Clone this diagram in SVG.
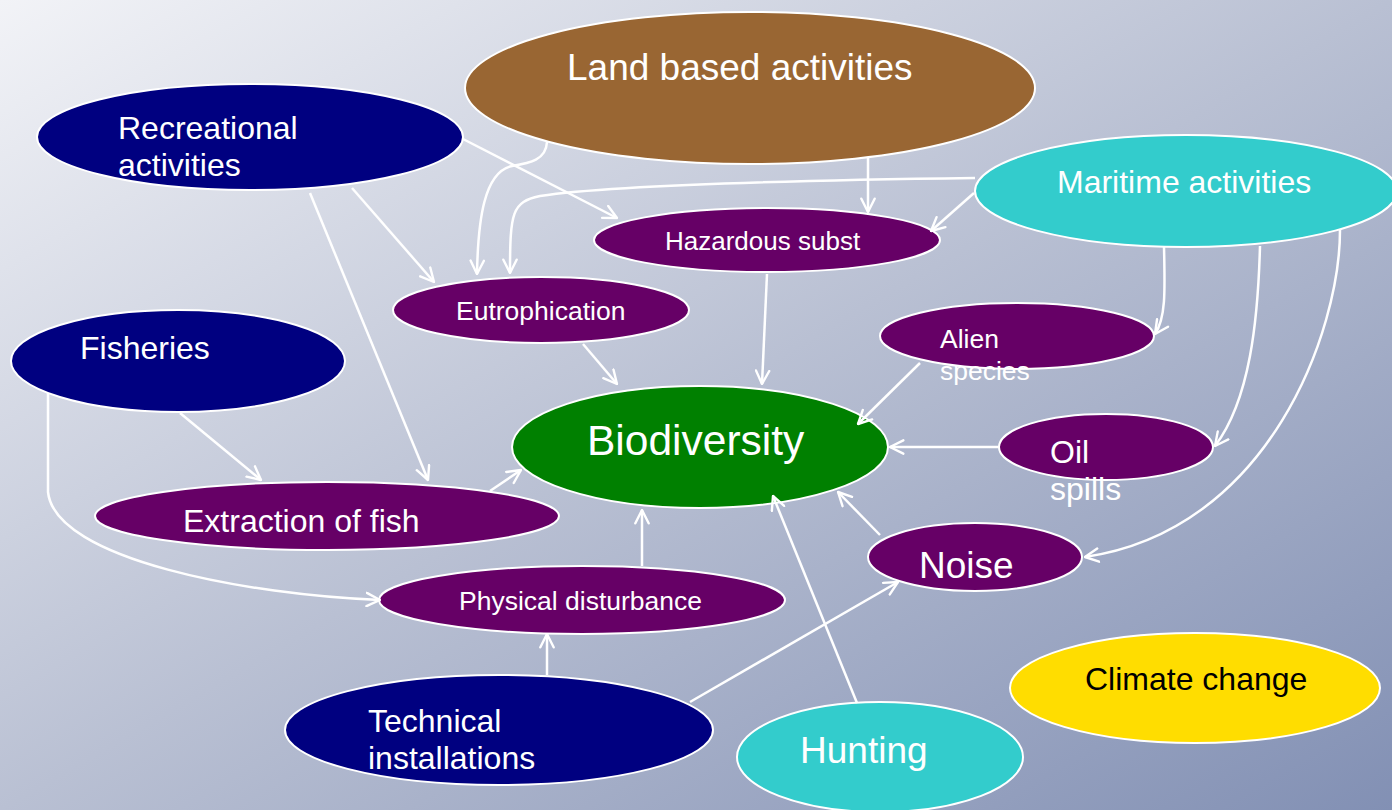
<svg xmlns="http://www.w3.org/2000/svg" width="1392" height="810" viewBox="0 0 1392 810">
<defs>
<linearGradient id="bg" x1="0" y1="0" x2="1" y2="1">
<stop offset="0" stop-color="#f2f3f7"/>
<stop offset="0.5" stop-color="#b9c0d3"/>
<stop offset="1" stop-color="#8290b4"/>
</linearGradient>
<marker id="ah" viewBox="0 0 12 12" refX="11" refY="6" markerWidth="16" markerHeight="16" markerUnits="userSpaceOnUse" orient="auto">
<path d="M1,1 L11,6 L1,11" fill="none" stroke="#fff" stroke-width="1.8" stroke-linecap="round" stroke-linejoin="round"/>
</marker>
<style>
.n{stroke:#fff;stroke-width:2}
.navy{fill:#000080}.brown{fill:#996633}.cyan{fill:#33cccc}.purple{fill:#660066}.green{fill:#008000}.yellow{fill:#ffdd00}
text{font-family:"Liberation Sans",Arial,sans-serif;fill:#fff}
.c path,.c line{fill:none;stroke:#fff;stroke-width:2.5;marker-end:url(#ah)}
</style>
</defs>
<rect width="1392" height="810" fill="url(#bg)"/>
<g id="land"><ellipse class="n brown" cx="750" cy="88" rx="285" ry="76"/><text x="567" y="80" font-size="37">Land based activities</text></g>
<g id="recreational"><ellipse class="n navy" cx="250" cy="137" rx="213" ry="53"/><text x="118" y="139" font-size="32">Recreational</text><text x="118" y="176" font-size="32">activities</text></g>
<g id="maritime"><ellipse class="n cyan" cx="1186" cy="191" rx="211" ry="56"/><text x="1057" y="193" font-size="32">Maritime activities</text></g>
<g id="hazardous"><ellipse class="n purple" cx="767" cy="240" rx="173" ry="32"/><text x="665" y="250" font-size="26">Hazardous subst</text></g>
<g id="eutrophication"><ellipse class="n purple" cx="541" cy="310" rx="148" ry="33"/><text x="456" y="320" font-size="26.5">Eutrophication</text></g>
<g id="fisheries"><ellipse class="n navy" cx="178" cy="361" rx="167" ry="51"/><text x="80" y="359" font-size="32">Fisheries</text></g>
<g id="alien"><ellipse class="n purple" cx="1017" cy="336" rx="137" ry="33"/><text x="940" y="348" font-size="26.5">Alien</text><text x="940" y="380" font-size="26.5">species</text></g>
<g id="biodiversity"><ellipse class="n green" cx="700" cy="447" rx="188" ry="61"/><text x="587" y="455" font-size="42.5">Biodiversity</text></g>
<g id="oil"><ellipse class="n purple" cx="1106" cy="447" rx="107" ry="33"/><text x="1050" y="463" font-size="32">Oil</text><text x="1050" y="500" font-size="32">spills</text></g>
<g id="extraction"><ellipse class="n purple" cx="327" cy="516" rx="232" ry="34"/><text x="183" y="532" font-size="32">Extraction of fish</text></g>
<g id="noise"><ellipse class="n purple" cx="975" cy="557" rx="107" ry="34"/><text x="919" y="578" font-size="37">Noise</text></g>
<g id="physical"><ellipse class="n purple" cx="582" cy="600" rx="203" ry="34"/><text x="459" y="610" font-size="26.5">Physical disturbance</text></g>
<g id="technical"><ellipse class="n navy" cx="499" cy="730" rx="214" ry="55"/><text x="368" y="732" font-size="32">Technical</text><text x="368" y="769" font-size="32">installations</text></g>
<g id="hunting"><ellipse class="n cyan" cx="880" cy="757" rx="143" ry="55"/><text x="800" y="763" font-size="37">Hunting</text></g>
<g id="climate"><ellipse class="n yellow" cx="1195" cy="688" rx="185" ry="55"/><text x="1085" y="690" font-size="32" style="fill:#000">Climate change</text></g>
<g id="connectors" class="c">
<line x1="463" y1="139" x2="617" y2="218"/>
<line x1="352" y1="188" x2="434" y2="282"/>
<line x1="310" y1="193" x2="428" y2="480"/>
<path d="M547,142 C546,160 530,163 512,166 C484,172 478,220 477,274"/>
<path d="M975,178 C820,180 620,184 540,196 C512,202 510,212 510,273"/>
<line x1="868" y1="158" x2="868" y2="212"/>
<line x1="974" y1="193" x2="931" y2="231"/>
<line x1="767" y1="274" x2="762" y2="384"/>
<line x1="583" y1="344" x2="617" y2="384"/>
<path d="M1164,247 C1165,290 1166,318 1155,334"/>
<path d="M1260,246 C1258,320 1250,400 1215,446"/>
<path d="M1340,230 C1340,330 1270,530 1085,557"/>
<line x1="920" y1="363" x2="858" y2="424"/>
<line x1="999" y1="447" x2="890" y2="447"/>
<line x1="880" y1="535" x2="838" y2="492"/>
<line x1="857" y1="703" x2="773" y2="496"/>
<line x1="690" y1="702" x2="898" y2="582"/>
<line x1="547" y1="675" x2="547" y2="634"/>
<line x1="642" y1="566" x2="642" y2="510"/>
<line x1="490" y1="491" x2="521" y2="470"/>
<line x1="180" y1="413" x2="261" y2="480"/>
<path d="M48,393 L48,492 C55,560 250,595 380,600"/>
</g>
</svg>
